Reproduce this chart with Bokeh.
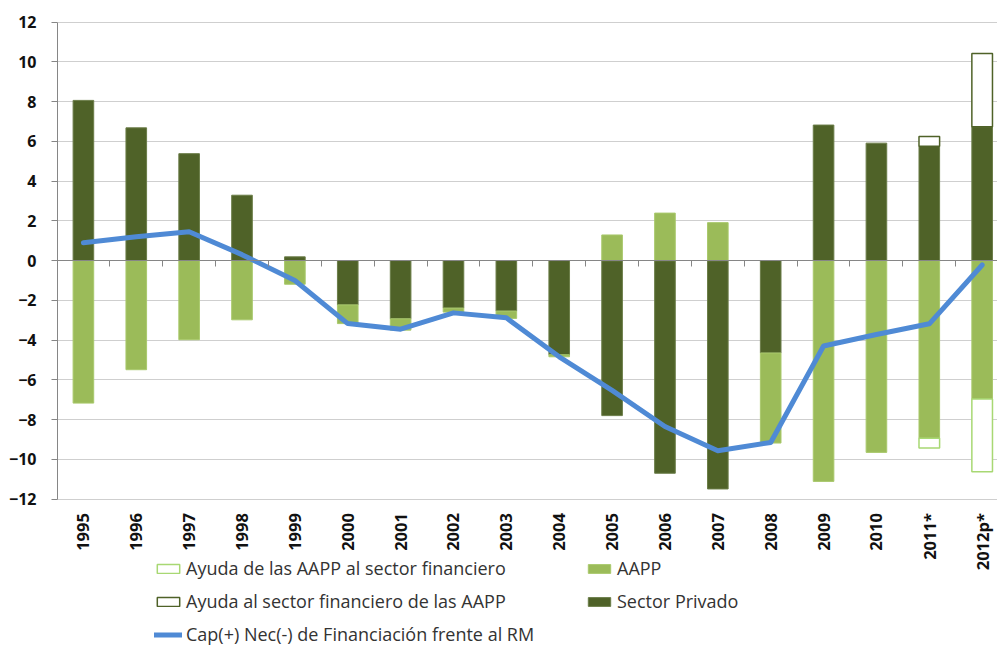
import numpy as np
from bokeh.plotting import figure
from bokeh.models import (ColumnDataSource, Range1d, FixedTicker, LinearAxis,
                          Legend, LegendItem)
from bokeh.core.properties import value
from bokeh.embed import file_html
from bokeh.resources import INLINE

# ---------------- data ----------------
years = ["1995", "1996", "1997", "1998", "1999", "2000", "2001", "2002", "2003",
         "2004", "2005", "2006", "2007", "2008", "2009", "2010", "2011*", "2012p*"]
sector_privado = [8.06, 6.68, 5.38, 3.29, 0.19, -2.23, -2.93, -2.39, -2.54,
                  -4.74, -7.80, -10.70, -11.49, -4.65, 6.82, 5.91, 5.75, 6.73]
aapp = [-7.17, -5.49, -3.98, -2.98, -1.19, -0.94, -0.57, -0.20, -0.37,
        -0.10, 1.29, 2.39, 1.91, -4.53, -11.11, -9.65, -8.94, -6.96]
ayuda_sector_fin_de_aapp = [0, 0, 0, 0, 0, 0, 0, 0, 0,
                            0, 0, 0, 0, 0, 0, 0, 0.50, 3.69]
ayuda_aapp_al_sector_fin = [0, 0, 0, 0, 0, 0, 0, 0, 0,
                            0, 0, 0, 0, 0, 0, 0, -0.49, -3.66]
cap_nec = [0.90, 1.20, 1.45, 0.30, -1.00, -3.17, -3.45, -2.63, -2.88,
           -4.84, -6.53, -8.35, -9.57, -9.15, -4.30, -3.72, -3.18, -0.22]
y_ticks = [-12, -10, -8, -6, -4, -2, 0, 2, 4, 6, 8, 10, 12]

labels = {
    "aid_neg": "Ayuda de las AAPP al sector financiero",
    "aid_pos": "Ayuda al sector financiero de las AAPP",
    "line": "Cap(+) Nec(-) de Financiación frente al RM",
    "aapp": "AAPP",
    "priv": "Sector Privado",
}

# ---------------- stacking ----------------
n = len(years)
x = np.arange(n, dtype=float)
priv = np.array(sector_privado)
ap = np.array(aapp)
aidp = np.array(ayuda_sector_fin_de_aapp)
aidn = np.array(ayuda_aapp_al_sector_fin)

pos_base = np.maximum(priv, 0)
neg_base = np.minimum(priv, 0)
priv_src = ColumnDataSource(dict(x=x, top=np.maximum(priv, 0), bottom=np.minimum(priv, 0)))
ap_bottom = np.where(ap >= 0, pos_base, neg_base + ap)
ap_top = np.where(ap >= 0, pos_base + ap, neg_base)
ap_src = ColumnDataSource(dict(x=x, top=ap_top, bottom=ap_bottom))
pos_base = pos_base + np.maximum(ap, 0)
neg_base = neg_base + np.minimum(ap, 0)

mp = aidp != 0
aidp_src = ColumnDataSource(dict(x=x[mp], bottom=pos_base[mp], top=pos_base[mp] + aidp[mp]))
mn = aidn != 0
aidn_src = ColumnDataSource(dict(x=x[mn], top=neg_base[mn], bottom=neg_base[mn] + aidn[mn]))
line_src = ColumnDataSource(dict(x=x, y=np.array(cap_nec)))
ylow = min(y_ticks)
lab_src = ColumnDataSource(dict(x=x, y=np.full(n, float(ylow)), text=years))

# ---------------- figure ----------------
FONT = "Open Sans"
PX_PER_UNIT = 477 / 24.0
FRAME_H = 646 - 21
y_top = max(y_ticks) + 0.03
y_bottom = y_top - FRAME_H / PX_PER_UNIT
p = figure(width=997, height=646, output_backend="svg", toolbar_location=None,
           x_range=Range1d(-0.49, 17.29), y_range=Range1d(y_bottom, y_top),
           x_axis_location=None,
           min_border_left=57, min_border_right=0, min_border_top=21,
           min_border_bottom=0, outline_line_color=None,
           background_fill_color="white", border_fill_color="white")

BW = 0.39
r_priv = p.vbar(x="x", top="top", bottom="bottom", width=BW, source=priv_src,
                fill_color="#4F6228", line_color="#6B7D48", line_width=1)
r_aapp = p.vbar(x="x", top="top", bottom="bottom", width=BW, source=ap_src,
                fill_color="#9BBB59", line_color="#A9C96C", line_width=1)
r_aidp = p.vbar(x="x", top="top", bottom="bottom", width=BW, source=aidp_src,
                fill_color="white", line_color="#4F6228", line_width=1.5)
r_aidn = p.vbar(x="x", top="top", bottom="bottom", width=BW, source=aidn_src,
                fill_color="white", line_color="#A8D873", line_width=1.5)
r_line = p.line(x="x", y="y", source=line_src, line_color="#4F8AD5",
                line_width=5, line_join="round", line_cap="round")

# category labels under the lowest gridline
p.text(x="x", y="y", text="text", source=lab_src, angle=np.pi / 2,
       text_align="right", text_baseline="middle", y_offset=14,
       text_font=value(FONT), text_font_style="bold", text_font_size="16.5px",
       text_color="#111111")

# y axis
p.yaxis.ticker = FixedTicker(ticks=y_ticks)
p.yaxis.bounds = (min(y_ticks), max(y_ticks))
p.yaxis.axis_line_color = "#868686"
p.yaxis.major_tick_line_color = "#868686"
p.yaxis.major_tick_out = 6
p.yaxis.major_tick_in = 0
p.yaxis.minor_tick_line_color = None
p.yaxis.major_label_standoff = 15
p.yaxis.major_label_text_font = FONT
p.yaxis.major_label_text_font_style = "bold"
p.yaxis.major_label_text_font_size = "16px"
p.yaxis.major_label_text_color = "#111111"

# zero line with category boundary ticks pointing down
zero_axis = LinearAxis(fixed_location=0, ticker=FixedTicker(ticks=list(x + 0.5)),
                       axis_line_color="#868686", major_tick_line_color="#868686",
                       major_tick_out=0, major_tick_in=6, minor_tick_line_color=None,
                       major_label_text_color=None, major_label_text_font_size="1px",
                       major_label_standoff=0)
p.add_layout(zero_axis, "above")

p.xgrid.grid_line_color = None
p.ygrid.ticker = FixedTicker(ticks=y_ticks)
p.ygrid.grid_line_color = "#CFCFCF"
p.ygrid.grid_line_width = 1

# legends
ITEM_H = 24
SPACING = 9
common = dict(label_text_font=FONT, label_text_font_size="18px",
              label_text_color="#333333", glyph_width=28, glyph_height=11,
              label_standoff=4, spacing=SPACING, padding=0, margin=0,
              label_height=ITEM_H, border_line_color=None,
              background_fill_alpha=0)
LEG_TOP = 556.0          # page y of the legend's first row box
h_a = 3 * ITEM_H + 2 * SPACING
h_b = 2 * ITEM_H + SPACING
leg_a = Legend(items=[LegendItem(label=labels["aid_neg"], renderers=[r_aidn]),
                      LegendItem(label=labels["aid_pos"], renderers=[r_aidp]),
                      LegendItem(label=labels["line"], renderers=[r_line])],
               location=(97, 646 - LEG_TOP - h_a), **common)
leg_b = Legend(items=[LegendItem(label=labels["aapp"], renderers=[r_aapp]),
                      LegendItem(label=labels["priv"], renderers=[r_priv])],
               location=(528, 646 - LEG_TOP - h_b), **common)
p.add_layout(leg_a)
p.add_layout(leg_b)

open("out.html", "w").write(file_html(p, INLINE))
